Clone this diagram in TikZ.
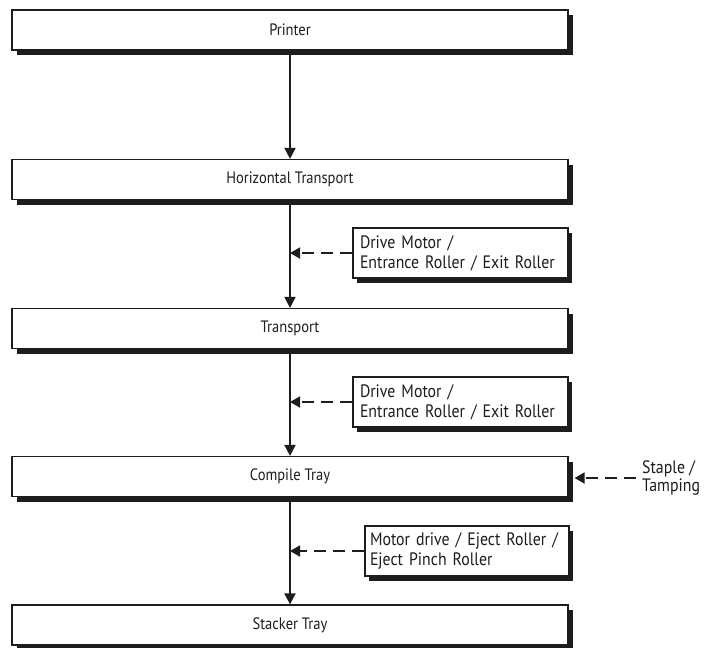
\documentclass[tikz,border=0pt]{standalone}
\usepackage{fontspec}
\setmainfont{PT Sans}[FakeStretch=0.88]
\usetikzlibrary{arrows.meta,shadows}
\definecolor{FlowInk}{RGB}{30,28,28}
\tikzset{
  flow/box/.style={
    draw=FlowInk,
    line width=1.2pt,
    fill=white,
    align=center,
    text=FlowInk,
    minimum width=556pt,
    minimum height=40pt,
    inner sep=0pt,
    font=\fontsize{16.5}{19}\selectfont,
    drop shadow={shadow xshift=4.5pt, shadow yshift=-5pt, fill=FlowInk, opacity=1}
  },
  flow/side/.style={
    draw=FlowInk,
    line width=1.2pt,
    fill=white,
    align=left,
    text=FlowInk,
    minimum height=50pt,
    inner xsep=7pt,
    inner ysep=3pt,
    font=\fontsize{18}{20}\selectfont,
    drop shadow={shadow xshift=4pt, shadow yshift=-4.5pt, fill=FlowInk, opacity=1}
  },
  flow/note/.style={align=left, text=FlowInk, inner sep=0pt, font=\fontsize{18}{17.5}\selectfont},
  flow/arrow/.style={-{Triangle[length=11pt,width=11pt]}, line width=1.8pt, draw=FlowInk},
  flow/dasharrow/.style={-{Triangle[length=10pt,width=11pt]}, line width=1.8pt, draw=FlowInk, dash pattern=on 12pt off 7pt}
}
\begin{document}
\begin{tikzpicture}[x=1pt,y=-1pt]
  \useasboundingbox (0,0) rectangle (710,648);
  % main path
  \node[flow/box] (printer) at (290,30) {Printer};
  \node[flow/box] (horiz) at (290,179.5) {Horizontal Transport};
  \node[flow/box] (transport) at (290,328.5) {Transport};
  \node[flow/box] (compile) at (290,476.5) {Compile Tray};
  \node[flow/box] (stacker) at (290,625) {Stacker Tray};
  \draw[flow/arrow] (printer) -- (horiz);
  \draw[flow/arrow] (horiz) -- (transport);
  \draw[flow/arrow] (transport) -- (compile);
  \draw[flow/arrow] (compile) -- (stacker);
  % drives
  \node[flow/side,text width=201pt] (drive1) at (460.5,253) {Drive Motor /\\Entrance Roller / Exit Roller};
  \node[flow/side,text width=201pt] (drive2) at (460.5,402) {Drive Motor /\\Entrance Roller / Exit Roller};
  \node[flow/side,text width=194pt,inner xsep=5pt] (eject) at (467,551) {Motor drive / Eject Roller /\\Eject Pinch Roller};
  \node[flow/note,anchor=west] (staple) at (642,478) {Staple /\\Tamping};
  \draw[flow/dasharrow] (drive1.west) -- (drive1.west -| horiz.south);
  \draw[flow/dasharrow] (drive2.west) -- (drive2.west -| transport.south);
  \draw[flow/dasharrow] (eject.west) -- (eject.west -| compile.south);
  \draw[flow/dasharrow] ([xshift=-6pt]staple.west) -- ([xshift=6pt]staple.west -| compile.east);
\end{tikzpicture}
\end{document}
